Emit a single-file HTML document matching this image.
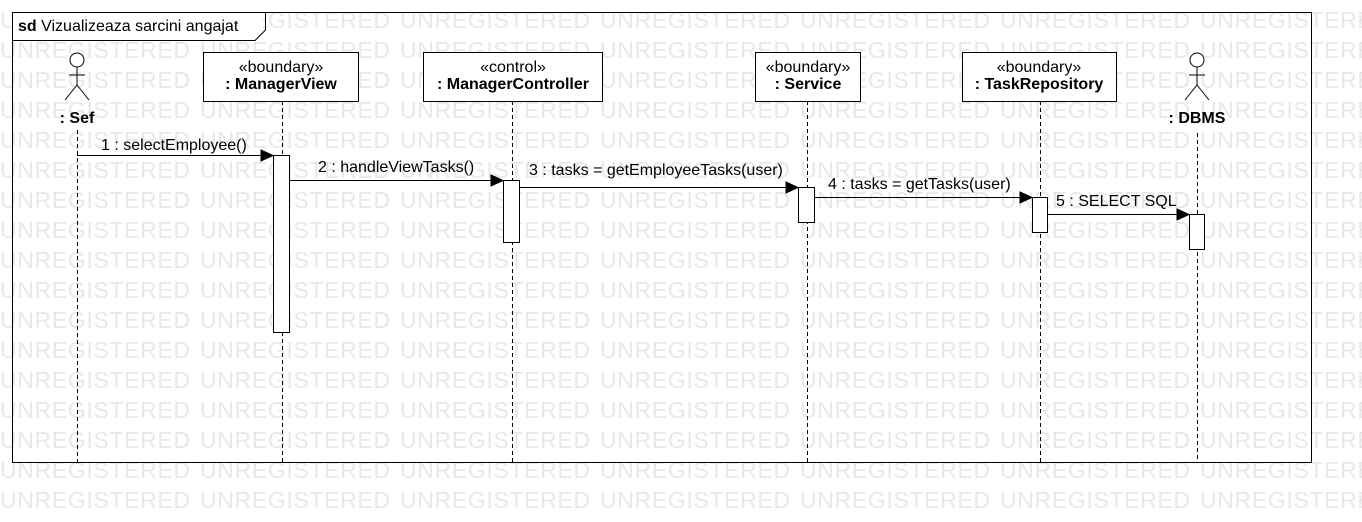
<!DOCTYPE html>
<html><head><meta charset="utf-8"><style>html,body{margin:0;padding:0;background:#fff;}svg{display:block;}</style></head>
<body>
<svg width="1362" height="522" xmlns="http://www.w3.org/2000/svg" font-family="Liberation Sans, sans-serif">
<g fill="#e8e8e8" font-size="23">
<g id="row">
<text x="0" y="28" textLength="190">UNREGISTERED</text><text x="200" y="28" textLength="190">UNREGISTERED</text><text x="400" y="28" textLength="190">UNREGISTERED</text><text x="600" y="28" textLength="190">UNREGISTERED</text><text x="800" y="28" textLength="190">UNREGISTERED</text><text x="1000" y="28" textLength="190">UNREGISTERED</text><text x="1200" y="28" textLength="190">UNREGISTERED</text>
</g>
<use href="#row" y="30"/><use href="#row" y="60"/><use href="#row" y="90"/><use href="#row" y="120"/><use href="#row" y="150"/><use href="#row" y="180"/><use href="#row" y="210"/><use href="#row" y="240"/><use href="#row" y="270"/><use href="#row" y="300"/><use href="#row" y="330"/><use href="#row" y="360"/><use href="#row" y="390"/><use href="#row" y="420"/><use href="#row" y="450"/><use href="#row" y="480"/>
</g>
<rect x="12.5" y="12.5" width="1299" height="450" fill="none" stroke="#000"/>
<rect x="13" y="13" width="250" height="27" fill="#fff"/>
<path d="M12.5 40.5 H255 L265.5 30 V12.5" fill="none" stroke="#000"/>
<text x="18" y="31" font-size="16"><tspan font-weight="bold">sd</tspan> Vizualizeaza sarcini angajat</text>

<g stroke="#000" stroke-dasharray="4,3" fill="none">
<line x1="77.5" y1="130" x2="77.5" y2="462"/>
<line x1="282.5" y1="101" x2="282.5" y2="462"/>
<line x1="512.5" y1="101" x2="512.5" y2="462"/>
<line x1="807.5" y1="101" x2="807.5" y2="462"/>
<line x1="1040.5" y1="101" x2="1040.5" y2="462"/>
<line x1="1197.5" y1="133" x2="1197.5" y2="462"/>
</g>

<g stroke="#000" fill="#fff">
<circle cx="77" cy="60" r="7"/><line x1="77" y1="67" x2="77" y2="85"/><line x1="69" y1="75" x2="85" y2="75"/><line x1="77" y1="85" x2="65" y2="100"/><line x1="77" y1="85" x2="89" y2="100"/>
<circle cx="1197" cy="60" r="7"/><line x1="1197" y1="67" x2="1197" y2="85"/><line x1="1189" y1="75" x2="1205" y2="75"/><line x1="1197" y1="85" x2="1185" y2="100"/><line x1="1197" y1="85" x2="1209" y2="100"/>
<rect x="203.5" y="52.5" width="155" height="49"/>
<rect x="423.5" y="52.5" width="179" height="49"/>
<rect x="755.5" y="52.5" width="105" height="49"/>
<rect x="962.5" y="52.5" width="154" height="49"/>
</g>
<g font-size="16" text-anchor="middle" fill="#000">
<text x="77" y="123" font-weight="bold">: Sef</text>
<text x="1197" y="123" font-weight="bold">: DBMS</text>
<text x="281" y="72">«boundary»</text><text x="281" y="89" font-weight="bold">: ManagerView</text>
<text x="513" y="72">«control»</text><text x="513" y="89" font-weight="bold">: ManagerController</text>
<text x="808" y="72">«boundary»</text><text x="808" y="89" font-weight="bold">: Service</text>
<text x="1039" y="72">«boundary»</text><text x="1039" y="89" font-weight="bold">: TaskRepository</text>
</g>

<g stroke="#000">
<line x1="77" y1="155.5" x2="262" y2="155.5"/><path d="M261 150 L273 155.5 L261 161Z"/>
<line x1="290" y1="180.5" x2="492" y2="180.5"/><path d="M491 175 L503 180.5 L491 186Z"/>
<line x1="520" y1="187.5" x2="787" y2="187.5"/><path d="M786 182 L798 187.5 L786 193Z"/>
<line x1="815" y1="197.5" x2="1021" y2="197.5"/><path d="M1020 192 L1032 197.5 L1020 203Z"/>
<line x1="1048" y1="214.5" x2="1178" y2="214.5"/><path d="M1177 209 L1189 214.5 L1177 220Z"/>
</g>
<g stroke="#000" fill="#fff">
<rect x="273.5" y="155.5" width="16" height="177"/>
<rect x="503.5" y="180.5" width="16" height="62"/>
<rect x="798.5" y="187.5" width="16" height="35"/>
<rect x="1032.5" y="197.5" width="15" height="35"/>
<rect x="1189.5" y="214.5" width="15" height="35"/>
</g>
<g font-size="16" fill="#000">
<text x="101" y="150">1 : selectEmployee()</text>
<text x="318" y="172">2 : handleViewTasks()</text>
<text x="529" y="175">3 : tasks = getEmployeeTasks(user)</text>
<text x="828" y="189">4 : tasks = getTasks(user)</text>
<text x="1056" y="206">5 : SELECT SQL</text>
</g>
</svg>
</body></html>
